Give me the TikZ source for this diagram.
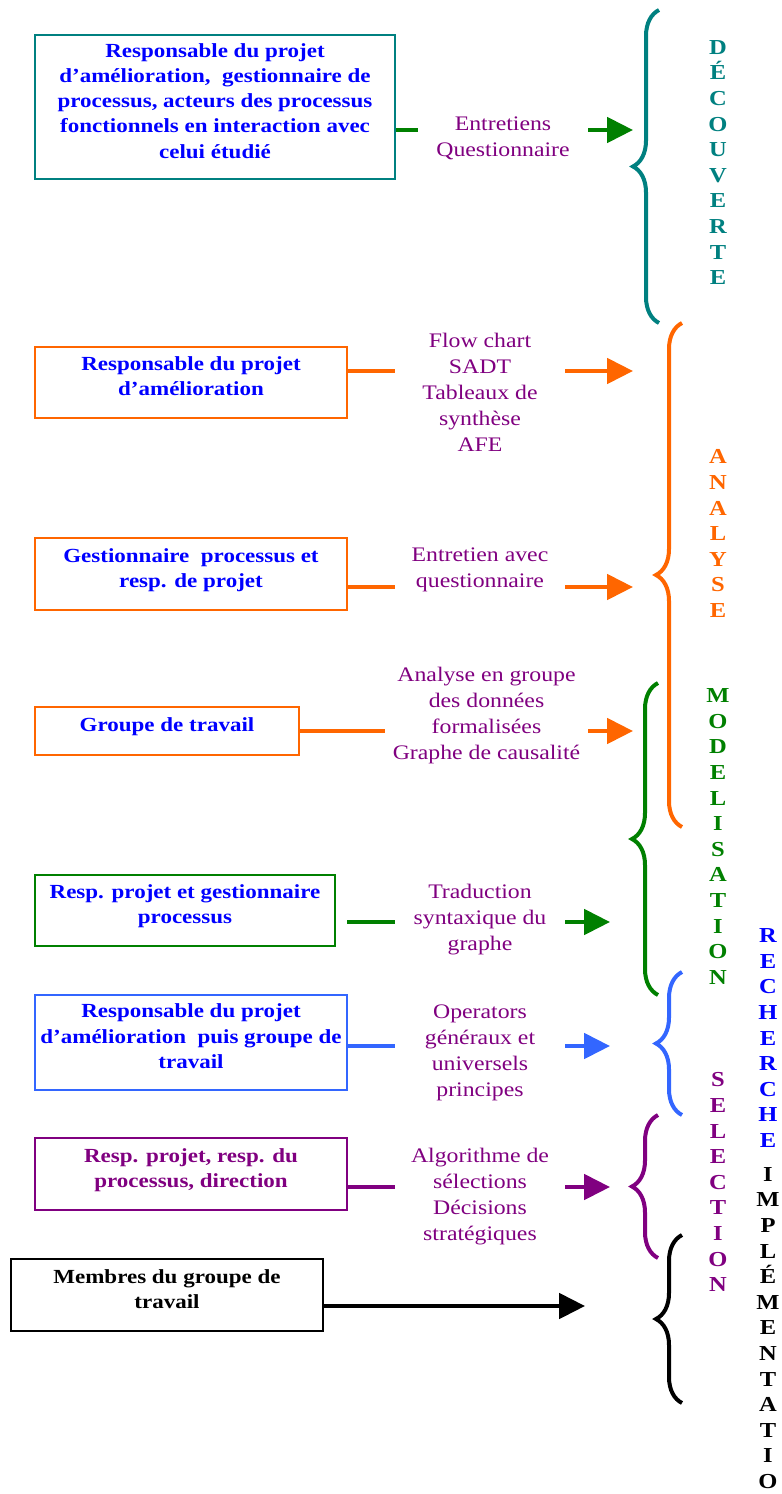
\documentclass[tikz,border=0pt]{standalone}
\usepackage{fontspec}
\setmainfont[FakeStretch=1.15]{Liberation Serif}
\usetikzlibrary{arrows.meta,decorations.pathreplacing}

\definecolor{dteal}{RGB}{0,128,128}
\definecolor{dgreen}{RGB}{0,128,0}
\definecolor{dorange}{RGB}{255,102,0}
\definecolor{dblue}{RGB}{0,0,255}
\definecolor{lblue}{RGB}{51,102,255}
\definecolor{dpurple}{RGB}{128,0,128}

\begin{document}
\begin{tikzpicture}[x=0.75pt, y=-0.75pt,
    actor/.style={draw, line width=1.5pt, align=center, inner sep=2pt, text depth=9.5pt, text=dblue, font=\bfseries\fontsize{15pt}{18.9pt}\selectfont},
    lbl/.style={align=center, inner sep=0pt, text=dpurple, font=\fontsize{15.5pt}{19.5pt}\selectfont},
    link/.style={line width=3pt},
    arrow/.style={link, -{Triangle[length=19.5pt, width=19pt]}},
    bracket/.style={line width=3pt, decorate, decoration={brace, amplitude=19.5pt}},
    phase/.style={align=center, inner sep=0pt, anchor=north, font=\bfseries\fontsize{16pt}{19.2pt}\selectfont}]

    \useasboundingbox (0,0) rectangle (781,1494);

    % acteurs
    \node (b1) [actor, draw=dteal, minimum width=270pt, minimum height=108pt] at (215,107) {Responsable du projet\\ d’amélioration,~ gestionnaire de\\ processus, acteurs des processus\\ fonctionnels en interaction avec\\ celui étudié};
    \node (b2) [actor, draw=dorange, minimum width=234pt, minimum height=53.25pt] at (191,382.5) {Responsable du projet\\ d’amélioration};
    \node (b3) [actor, draw=dorange, minimum width=234pt, minimum height=54pt] at (191,574) {Gestionnaire~ processus et\\ resp. de projet};
    \node (b4) [actor, draw=dorange, minimum width=198pt, minimum height=36pt] at (167,731) {Groupe de travail};
    \node (b5) [actor, draw=dgreen, minimum width=225pt, minimum height=53.25pt] at (185,910.5) {Resp. projet et gestionnaire\\ processus};
    \node (b6) [actor, draw=lblue, minimum width=234pt, minimum height=71.25pt] at (191,1042.5) {Responsable du projet\\ d’amélioration~ puis groupe de\\ travail};
    \node (b7) [actor, draw=dpurple, text=dpurple, minimum width=234pt, minimum height=54pt] at (191,1174) {Resp. projet, resp. du\\ processus, direction};
    \node (b8) [actor, draw=black, text=black, minimum width=234pt, minimum height=54pt] at (167,1295) {Membres du groupe de\\ travail};

    % outils
    \node (l1) [lbl, minimum width=127.5pt] at (503,138) {Entretiens\\ Questionnaire};
    \node (l2) [lbl, minimum width=127.5pt] at (480,392) {Flow chart\\ SADT\\ Tableaux de\\ synthèse\\ AFE};
    \node (l3) [lbl, minimum width=127.5pt] at (480,570) {Entretien avec\\ questionnaire};
    \node (l4) [lbl, minimum width=152pt] at (486.5,716) {Analyse en groupe\\ des données\\ formalisées\\ Graphe de causalité};
    \node (l5) [lbl, minimum width=127.5pt] at (480,920) {Traduction\\ syntaxique du\\ graphe};
    \node (l6) [lbl, minimum width=127.5pt] at (480,1053) {Operators\\ généraux et\\ universels\\ principes};
    \node (l7) [lbl, minimum width=127.5pt] at (480,1197) {Algorithme de\\ sélections\\ Décisions\\ stratégiques};

    \coordinate (a1) at (633,130);
    \coordinate (a2) at (633,371);
    \coordinate (a3) at (633,587);
    \coordinate (a4) at (633,731);
    \coordinate (s5) at (347,922);
    \coordinate (a5) at (610,922);
    \coordinate (a6) at (610,1046);
    \coordinate (a7) at (610,1187);
    \coordinate (a8) at (585,1306);

    \draw [link, dgreen] (b1.east |- a1) -- (l1.west |- a1);
    \draw [arrow, dgreen] (l1.east |- a1) -- (a1);
    \draw [link, dorange] (b2.east |- a2) -- (l2.west |- a2);
    \draw [arrow, dorange] (l2.east |- a2) -- (a2);
    \draw [link, dorange] (b3.east |- a3) -- (l3.west |- a3);
    \draw [arrow, dorange] (l3.east |- a3) -- (a3);
    \draw [link, dorange] (b4.east |- a4) -- (l4.west |- a4);
    \draw [arrow, dorange] (l4.east |- a4) -- (a4);
    \draw [link, dgreen] (s5) -- (l5.west |- s5);
    \draw [arrow, dgreen] (l5.east |- a5) -- (a5);
    \draw [link, lblue] (b6.east |- a6) -- (l6.west |- a6);
    \draw [arrow, lblue] (l6.east |- a6) -- (a6);
    \draw [link, dpurple] (b7.east |- a7) -- (l7.west |- a7);
    \draw [arrow, dpurple] (l7.east |- a7) -- (a7);
    \draw [arrow, black] (b8.east |- a8) -- (a8);

    % accolades
    \draw [bracket, dteal] (659,323) -- (659,10);
    \draw [bracket, dorange] (682,827) -- (682,323);
    \draw [bracket, dgreen] (658,995) -- (658,683);
    \draw [bracket, lblue] (682,1115) -- (682,972);
    \draw [bracket, dpurple] (658,1258) -- (658,1115);
    \draw [bracket, black] (682,1403) -- (682,1235);

    % phases
    \node (decouv) [phase, text=dteal] at (718,40) {D\\É\\C\\O\\U\\V\\E\\R\\T\\E};
    \node (analyse) [phase, text=dorange] at (718,449.5) {A\\N\\A\\L\\Y\\S\\E};
    \node (model) [phase, text=dgreen] at (718,688.5) {M\\O\\D\\E\\L\\I\\S\\A\\T\\I\\O\\N};
    \node (rech) [phase, text=dblue] at (768,928.5) {R\\E\\C\\H\\E\\R\\C\\H\\E};
    \node (select) [phase, text=dpurple] at (718,1072.5) {S\\E\\L\\E\\C\\T\\I\\O\\N};
    \node (implem) [phase, text=black] at (768,1167) {I\\M\\P\\L\\É\\M\\E\\N\\T\\A\\T\\I\\O};
\end{tikzpicture}
\end{document}
